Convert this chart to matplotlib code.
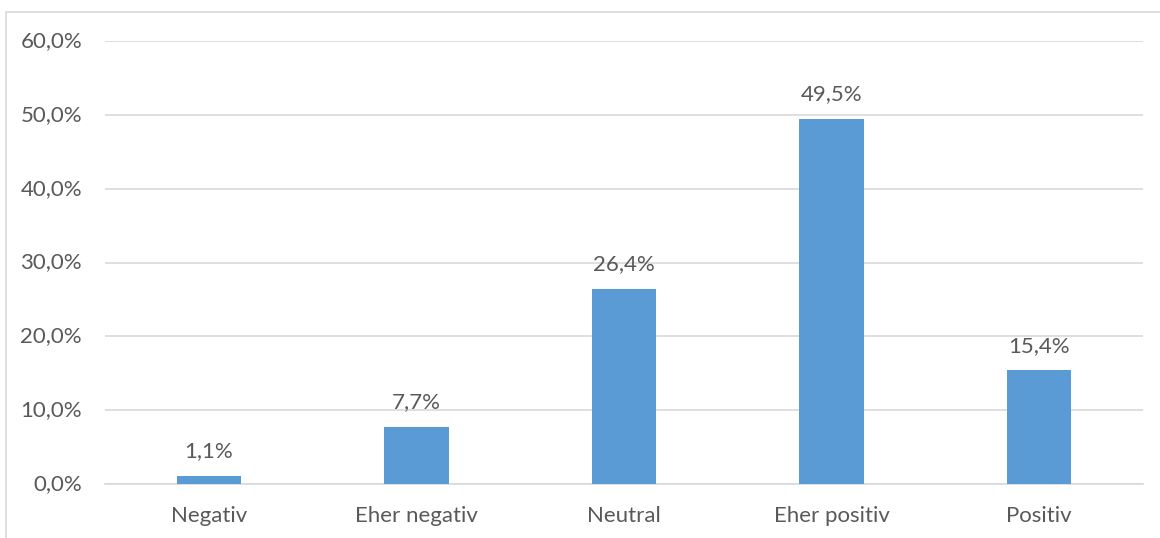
import matplotlib
matplotlib.use("Agg")
import matplotlib.pyplot as plt
from matplotlib.patches import Rectangle
from matplotlib.ticker import FuncFormatter

categories = ["Negativ", "Eher negativ", "Neutral", "Eher positiv", "Positiv"]
values = [1.1, 7.7, 26.4, 49.5, 15.4]
y_ticks = [0, 10, 20, 30, 40, 50, 60]

BAR = "#5B9BD5"
GRID = "#D9D9D9"
TEXT = "#595959"
FS = 16

plt.rcParams["font.family"] = ["Lato", "DejaVu Sans"]

fig = plt.figure(figsize=(11.6, 5.38), dpi=100)
fig.patch.set_facecolor("white")

# chart area border (only top and left edges fall inside the canvas)
fig.add_artist(Rectangle((6 / 1160, -0.1), 1.2, 1 - 12 / 538 + 0.1,
                         transform=fig.transFigure, fill=False,
                         edgecolor=GRID, linewidth=1.2))

ax = fig.add_axes([105 / 1160, 1 - 484 / 538, (1143 - 105) / 1160, (484 - 41) / 538])
x = range(len(categories))
bars = ax.bar(x, values, width=0.31, color=BAR, zorder=3)

ax.set_xlim(-0.5, len(categories) - 0.5)
ax.set_ylim(0, 60)
ax.set_yticks(y_ticks)
ax.yaxis.set_major_formatter(FuncFormatter(lambda v, p: f"{v:.1f}%".replace(".", ",")))
ax.set_xticks(list(x))
ax.set_xticklabels(categories)

ax.grid(axis="y", color=GRID, linewidth=1.2, zorder=0)
for s in ["top", "right", "left"]:
    ax.spines[s].set_visible(False)
ax.spines["bottom"].set_color(GRID)
ax.spines["bottom"].set_linewidth(1.2)
ax.tick_params(axis="both", length=0, colors=TEXT, labelsize=FS)
ax.tick_params(axis="y", pad=16.5)
ax.tick_params(axis="x", pad=16)
for lbl in ax.get_yticklabels():
    lbl.set_verticalalignment("center")

for b, v in zip(bars, values):
    ax.annotate(f"{v:.1f}%".replace(".", ","), (b.get_x() + b.get_width() / 2, v),
                xytext=(0, 10.5), textcoords="offset points", ha="center", va="bottom",
                color=TEXT, fontsize=FS)

fig.savefig("out.png", dpi=100, facecolor="white")
